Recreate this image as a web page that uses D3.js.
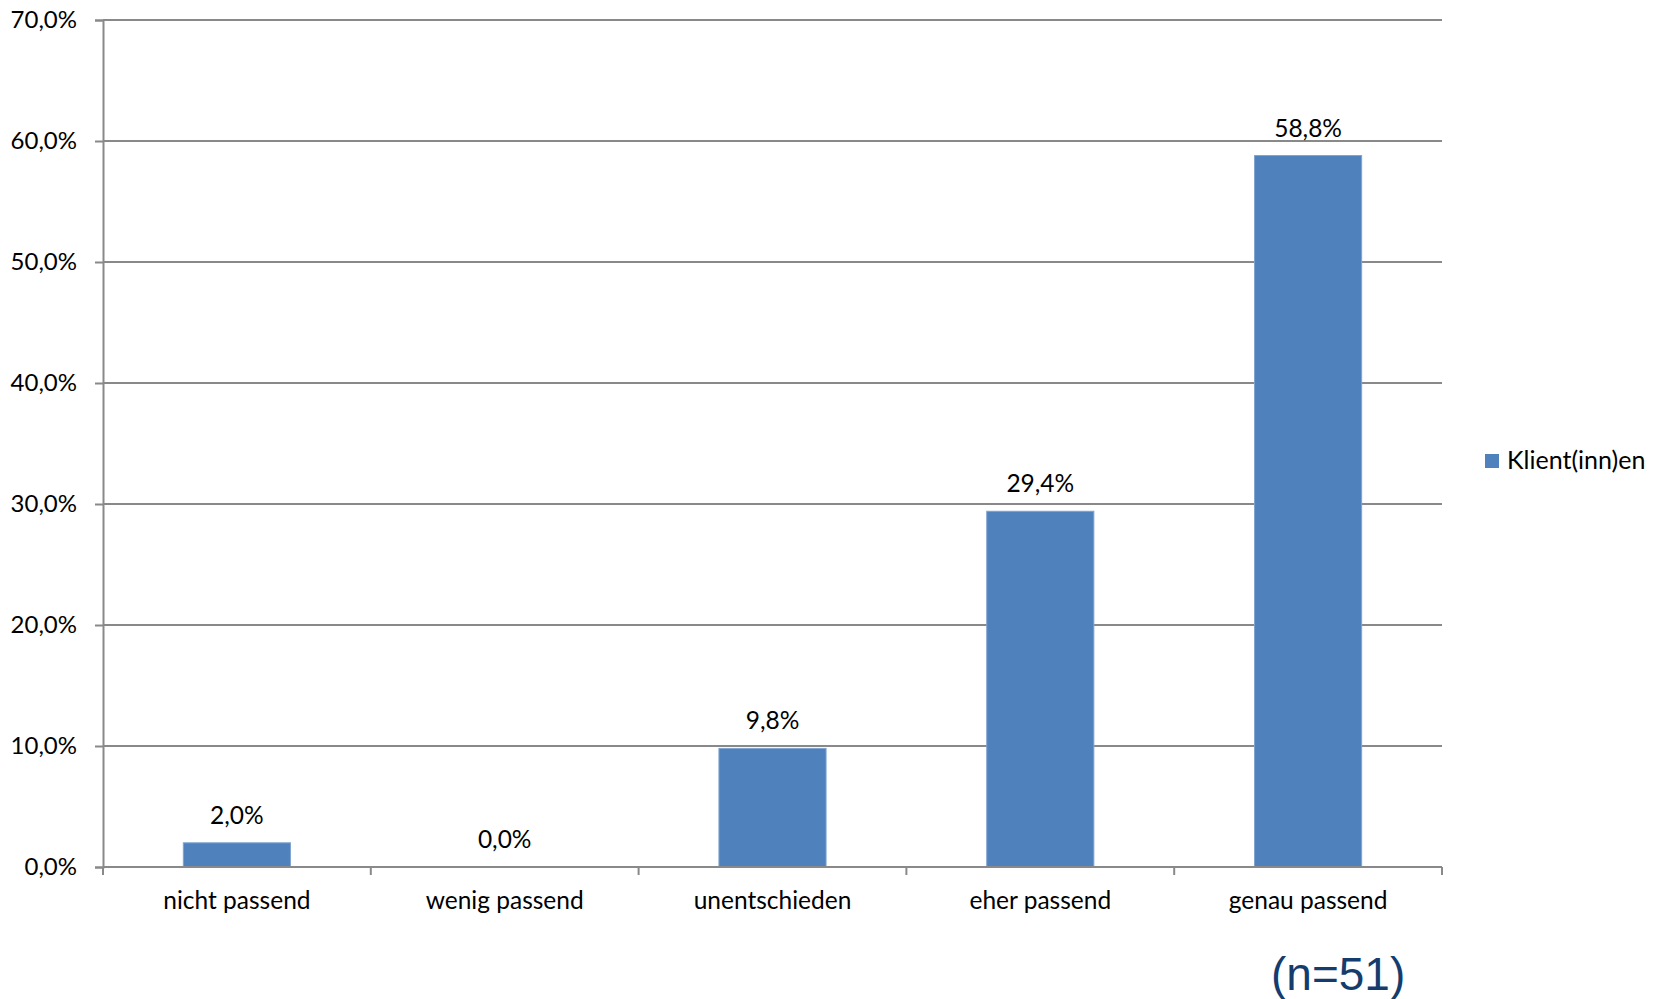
<!DOCTYPE html>
<html>
<head>
<meta charset="utf-8">
<script src="https://cdn.jsdelivr.net/npm/d3@7"></script>
<style>
  html, body { margin: 0; padding: 0; background: #ffffff; }
  svg { display: block; }
  text { font-family: Lato, "Open Sans", sans-serif; fill: #000; }
</style>
</head>
<body>
<svg id="chart" width="1663" height="999"></svg>
<script>
// Ratings of how well the offer fits, share of clients per answer
const categories = ["nicht passend", "wenig passend", "unentschieden", "eher passend", "genau passend"];
const values = [2.0, 0.0, 9.8, 29.4, 58.8];
const seriesName = "Klient(inn)en";
const yTicks = [0, 10, 20, 30, 40, 50, 60, 70];
const sampleNote = "(n=51)";

const fmt = v => v.toFixed(1).replace(".", ",") + "%";

const svg = d3.select("#chart");
const plot = { left: 103, right: 1442, top: 20, bottom: 867 };
const fontSize = 24.5;

const x = d3.scaleBand()
  .domain(categories)
  .range([plot.left, plot.right])
  .paddingInner(0.6)
  .paddingOuter(0.3);

const y = d3.scaleLinear()
  .domain([0, 70])
  .range([plot.bottom, plot.top]);

const grey = "#898989";

// horizontal gridlines
svg.append("g")
  .selectAll("line")
  .data(yTicks.filter(t => t > 0))
  .join("line")
  .attr("x1", plot.left).attr("x2", plot.right)
  .attr("y1", d => y(d)).attr("y2", d => y(d))
  .attr("stroke", grey).attr("stroke-width", 2);

// y axis
const yAxis = svg.append("g")
  .attr("transform", `translate(${plot.left},0)`)
  .call(d3.axisLeft(y).tickValues(yTicks).tickFormat(d => fmt(d)).tickSize(8).tickPadding(18));
yAxis.select(".domain").attr("stroke", grey).attr("stroke-width", 2);
yAxis.selectAll(".tick line").attr("stroke", grey).attr("stroke-width", 2);
yAxis.selectAll(".tick text")
  .style("font-family", "Lato, 'Open Sans', sans-serif")
  .attr("font-size", 24).attr("fill", "#000");

// bars
svg.append("g")
  .selectAll("rect")
  .data(values)
  .join("rect")
  .attr("x", (d, i) => x(categories[i]))
  .attr("width", x.bandwidth())
  .attr("y", d => y(d))
  .attr("height", d => y(0) - y(d))
  .attr("fill", "#4F81BD")
  .attr("stroke", "#7FA3D0")
  .attr("stroke-width", d => d > 0 ? 1 : 0);

// x axis with ticks between the categories
const bounds = d3.range(categories.length + 1).map(i => plot.left + i * (plot.right - plot.left) / categories.length);
const xAxis = svg.append("g");
xAxis.append("line")
  .attr("x1", plot.left).attr("x2", plot.right)
  .attr("y1", y(0)).attr("y2", y(0))
  .attr("stroke", grey).attr("stroke-width", 2);
xAxis.selectAll("line.tick")
  .data(bounds)
  .join("line")
  .attr("class", "tick")
  .attr("x1", d => d).attr("x2", d => d)
  .attr("y1", y(0)).attr("y2", y(0) + 8)
  .attr("stroke", grey).attr("stroke-width", 2);
xAxis.selectAll("text")
  .data(categories)
  .join("text")
  .attr("x", d => x(d) + x.bandwidth() / 2)
  .attr("y", 909)
  .attr("text-anchor", "middle")
  .attr("font-size", fontSize)
  .text(d => d);

// value labels
svg.append("g")
  .selectAll("text")
  .data(values)
  .join("text")
  .attr("x", (d, i) => x(categories[i]) + x.bandwidth() / 2)
  .attr("y", d => y(d) - 19)
  .attr("text-anchor", "middle")
  .attr("font-size", fontSize)
  .text(d => fmt(d));

// legend
const legend = svg.append("g").attr("transform", "translate(1485,454)");
legend.append("rect").attr("width", 14).attr("height", 14).attr("fill", "#4F81BD");
legend.append("text").attr("x", 22).attr("y", 15).attr("font-size", 25).text(seriesName);

// sample size note
svg.append("text")
  .attr("x", 1271).attr("y", 990)
  .style("font-family", "'Liberation Sans', Arial, sans-serif")
  .attr("font-size", 46)
  .style("fill", "#143D6E")
  .text(sampleNote);
</script>
</body>
</html>
